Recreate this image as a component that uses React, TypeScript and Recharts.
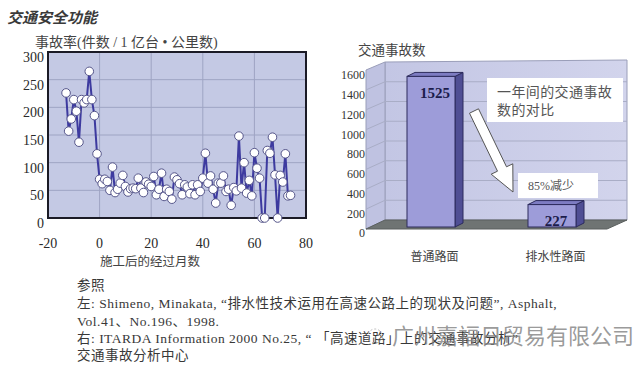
import React from 'react';
import {
  LineChart,
  Line,
  XAxis,
  YAxis,
  CartesianGrid,
  ReferenceArea,
  BarChart,
  Bar,
  LabelList,
} from 'recharts';

const SERIF = "'Liberation Serif', 'Noto Sans CJK SC', serif";
const CJK = "'Noto Sans CJK SC', 'Liberation Serif', sans-serif";

// left chart: accident rate by month after construction
const months = [
  -13, -12, -11, -10, -9, -8, -7, -6, -5, -4, -3, -2, -1,
  0, 1, 2, 3, 4, 5, 6, 7, 8, 9, 10, 11, 12, 13, 14, 15, 16, 17, 18, 19,
  20, 21, 22, 23, 24, 25, 26, 27, 28, 29, 30, 31, 32, 33, 34, 35, 36, 37, 38, 39,
  40, 41, 42, 43, 44, 45, 46, 47, 48, 49, 50, 51, 52, 53, 54, 55, 56, 57, 58, 59,
  60, 61, 62, 63, 64, 65, 66, 67, 68, 69, 70, 71, 72, 73, 74,
];
const accidentRate = [
  226, 157, 179, 214, 193, 137, 214, 208, 214, 265, 214, 185, 116,
  70, 62, 70, 66, 50, 92, 46, 52, 63, 77, 57, 47, 53, 54, 53, 72, 54, 46, 65, 61,
  57, 75, 42, 52, 81, 39, 52, 48, 34, 74, 69, 62, 42, 60, 56, 44, 60, 42, 60, 48,
  72, 117, 63, 76, 52, 27, 63, 63, 76, 48, 52, 23, 55, 49, 148, 54, 100, 45, 68, 40,
  118, 90, 72, 0, 0, 122, 117, 146, 78, 0, 77, 65, 116, 40, 41,
];
const monthTicks = [-20, 0, 20, 40, 60, 80];
const rateTicks = [0, 50, 100, 150, 200, 250, 300];

// right chart: accidents per year
const roadTypes = ['普通路面', '排水性路面'];
const accidentCounts = [1525, 227];
const countTicks = [0, 200, 400, 600, 800, 1000, 1200, 1400, 1600];

const rateData = months.map((m, i) => ({ month: m, rate: accidentRate[i] }));
const countData = roadTypes.map((r, i) => ({ road: r, count: accidentCounts[i] }));

// 3d box geometry for the right chart
const DEPTH_X = 8;
const DEPTH_Y = -4;

function Box3D(props: any) {
  const { x, y, width, height } = props;
  const dx = DEPTH_X;
  const dy = DEPTH_Y;
  const top = `${x},${y} ${x + dx},${y + dy} ${x + width + dx},${y + dy} ${x + width},${y}`;
  const side = `${x + width},${y} ${x + width + dx},${y + dy} ${x + width + dx},${y + height + dy} ${x + width},${y + height}`;
  return (
    <g stroke="#2c2b5c" strokeWidth={1}>
      <polygon points={side} fill="#4f4e94" />
      <polygon points={top} fill="#7d7cc2" />
      <rect x={x} y={y} width={width} height={height} fill="#9d9cd9" />
    </g>
  );
}

function BarValue(props: any) {
  const { x, y, width, height, value } = props;
  const cy = Math.min(y + 17, y + height - 6);
  return (
    <text
      x={x + width / 2 + 4}
      y={cy}
      textAnchor="middle"
      dominantBaseline="central"
      fontFamily={SERIF}
      fontWeight="bold"
      fontSize={15}
      fill="#1c1c4c"
    >
      {value}
    </text>
  );
}

// walls / floor behind the bar chart
function Room() {
  const fl = { x: 366, y: 229 };
  const bl = { x: 385, y: 220 };
  const wallH = 158;
  const backRight = 627;
  const frontRight = 607;
  const lines = countTicks.filter((v) => v > 0 && v < 1600);
  return (
    <svg width={640} height={367} style={{ position: 'absolute', left: 0, top: 0 }}>
      <defs>
        <linearGradient id="backwall" x1="0" y1="0" x2="1" y2="0">
          <stop offset="0" stopColor="#c3c6e4" />
          <stop offset="1" stopColor="#d2d4ec" />
        </linearGradient>
      </defs>
      <polygon
        points={`${bl.x},${bl.y - wallH} ${backRight},${bl.y - wallH - 2} ${backRight},${bl.y} ${bl.x},${bl.y}`}
        fill="url(#backwall)"
        stroke="#9a9eb9"
      />
      <polygon
        points={`${fl.x},${fl.y - wallH - 1} ${bl.x},${bl.y - wallH} ${bl.x},${bl.y} ${fl.x},${fl.y}`}
        fill="#bfc2e1"
        stroke="#9a9eb9"
      />
      {lines.map((v) => {
        const yb = bl.y - (v / 1600) * wallH;
        const yf = fl.y - (v / 1600) * (wallH + 1);
        return (
          <g key={v} stroke="#a9adc6" strokeWidth={1}>
            <line x1={bl.x} y1={yb} x2={backRight} y2={yb} />
            <line x1={fl.x} y1={yf} x2={bl.x} y2={yb} />
          </g>
        );
      })}
      <polygon
        points={`${fl.x},${fl.y} ${bl.x},${bl.y} ${backRight},${bl.y} ${frontRight},${fl.y}`}
        fill="#6f7473"
        stroke="#5a5f5e"
      />
    </svg>
  );
}

function Overlay() {
  const arrow = [
    [469.5, 113.2],
    [478.5, 108.8],
    [506.5, 166.8],
    [512.8, 163.8],
    [513, 192],
    [491.2, 174.2],
    [497.5, 171.2],
  ]
    .map((p) => p.join(','))
    .join(' ');
  const ref = { fontFamily: SERIF, fontSize: 13.5, letterSpacing: 0.5, fill: '#383838' };
  return (
    <svg
      width={640}
      height={367}
      style={{ position: 'absolute', left: 0, top: 0, pointerEvents: 'none' }}
    >
      <text x={7} y={16} dominantBaseline="central" fontFamily={CJK} fontStyle="italic" fontWeight="bold" fontSize={15} fill="#3a3a3a">
        交通安全功能
      </text>
      <text x={35} y={42} dominantBaseline="central" fontFamily={SERIF} fontSize={14} fill="#444">
        事故率(件数 / 1 亿台 • 公里数)
      </text>
      <text x={150} y={262} textAnchor="middle" dominantBaseline="central" fontFamily={SERIF} fontSize={12.5} fill="#444">
        施工后的经过月数
      </text>
      <text x={358} y={50} dominantBaseline="central" fontFamily={SERIF} fontSize={13.5} fill="#444">
        交通事故数
      </text>

      <rect x={487} y={78} width={136} height={44} fill="#fff" />
      <text x={497} y={92} dominantBaseline="central" fontFamily={SERIF} fontSize={14} letterSpacing={0.4} fill="#555">
        一年间的交通事故
      </text>
      <text x={497} y={110} dominantBaseline="central" fontFamily={SERIF} fontSize={14} letterSpacing={0.4} fill="#555">
        数的对比
      </text>
      <polygon points={arrow} fill="#fff" stroke="#555" strokeWidth={1} />
      <rect x={518} y={173} width={80} height={25} fill="#fff" />
      <text x={528} y={186} dominantBaseline="central" fontFamily={SERIF} fontSize={12} fill="#555">
        85%减少
      </text>

      <text x={77} y={285} dominantBaseline="central" {...ref}>参照</text>
      <text x={77} y={303} dominantBaseline="central" {...ref}>
        左: Shimeno, Minakata, “排水性技术运用在高速公路上的现状及问题”, Asphalt,
      </text>
      <text x={77} y={321} dominantBaseline="central" {...ref}>Vol.41、No.196、1998.</text>
      <text x={77} y={338} dominantBaseline="central" {...ref}>
        右: ITARDA Information 2000 No.25, “ 「高速道路」上的交通事故分析”
      </text>
      <text x={77} y={355} dominantBaseline="central" {...ref}>交通事故分析中心</text>

      <circle cx={375} cy={336} r={7} fill="none" stroke="#bbb" strokeDasharray="2 2" />
      <text x={392} y={334} dominantBaseline="central" fontFamily={CJK} fontSize={22} fill="#808080" fillOpacity={0.8}>
        广州嘉福日贸易有限公司
      </text>
    </svg>
  );
}

export default function App() {
  return (
    <div
      style={{
        position: 'fixed',
        left: 0,
        top: 0,
        width: 640,
        height: 367,
        background: '#fff',
        overflow: 'hidden',
      }}
    >
      <Room />
      <div style={{ position: 'absolute', left: 0, top: 0 }}>
        <LineChart
          width={320}
          height={270}
          data={rateData}
          margin={{ top: 52, right: 14, bottom: 22, left: 0 }}
        >
          <CartesianGrid fill="#c4c9e4" stroke="#9ea4c3" />
          <XAxis
            dataKey="month"
            type="number"
            domain={[-20, 80]}
            ticks={monthTicks}
            interval={0}
            height={30}
            tickLine={false}
            axisLine={false}
            tickSize={0}
            tickMargin={20}
            tick={{ fontSize: 14, fill: '#2a2a2a', fontFamily: SERIF }}
          />
          <YAxis
            type="number"
            domain={[0, 300]}
            ticks={rateTicks}
            interval={0}
            width={48}
            tickLine={false}
            axisLine={false}
            tickSize={0}
            tickMargin={4}
            tick={{ fontSize: 14, fill: '#2a2a2a', fontFamily: SERIF, dy: 5 }}
          />
          <ReferenceArea
            x1={-20}
            x2={80}
            y1={0}
            y2={300}
            fill="none"
            stroke="#1b1b26"
            strokeWidth={2}
          />
          <Line
            dataKey="rate"
            type="linear"
            stroke="#3d3a9f"
            strokeWidth={2}
            dot={{ r: 4.3, fill: '#fff', stroke: '#55558a', strokeWidth: 1 }}
            isAnimationActive={false}
          />
        </LineChart>
      </div>
      <div style={{ position: 'absolute', left: 336, top: 0 }}>
        <BarChart
          width={300}
          height={270}
          data={countData}
          margin={{ top: 69, right: 24, bottom: 13, left: 0 }}
          barSize={48}
        >
          <XAxis
            dataKey="road"
            height={30}
            interval={0}
            tickLine={false}
            axisLine={false}
            tickSize={0}
            tickMargin={25}
            tick={{ fontSize: 12, fill: '#444', fontFamily: SERIF, dx: 4 }}
          />
          <YAxis
            type="number"
            domain={[0, 1600]}
            ticks={countTicks}
            interval={0}
            width={34}
            tickLine={false}
            axisLine={false}
            tickSize={0}
            tickMargin={5}
            tick={{ fontSize: 12, fill: '#333', fontFamily: SERIF, dy: 6 }}
          />
          <Bar dataKey="count" shape={Box3D} isAnimationActive={false}>
            <LabelList dataKey="count" content={BarValue} />
          </Bar>
        </BarChart>
      </div>
      <Overlay />
    </div>
  );
}
